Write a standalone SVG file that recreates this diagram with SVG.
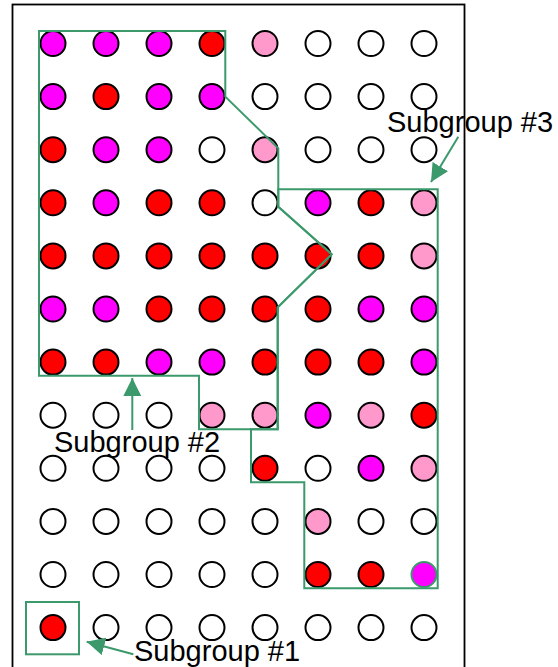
<svg xmlns="http://www.w3.org/2000/svg" width="558" height="667" viewBox="0 0 558 667">
<style>
.c{stroke:#000;stroke-width:2}
.w{fill:#fff}.m{fill:#ff00ff}.r{fill:#ff0000}.p{fill:#ff99cc}
.g{fill:none;stroke:#3b996b;stroke-width:2}
.lbl{font-family:"Liberation Sans",Arial,sans-serif;font-size:29px;fill:#000}
</style>
<defs>
<marker id="ah" viewBox="0 0 18 18" refX="18" refY="9" markerWidth="18" markerHeight="18" markerUnits="userSpaceOnUse" orient="auto">
<path d="M0,0 L18,9 L0,18 z" fill="#3b996b"/>
</marker>
</defs>
<rect x="0" y="0" width="558" height="667" fill="#fff"/>
<rect x="12.5" y="4.5" width="452" height="680" fill="none" stroke="#000" stroke-width="1.8"/>
<g id="grid">
<g transform="translate(0,43.5)">
<circle class="c m" cx="53" cy="0" r="12.5"/><circle class="c m" cx="106" cy="0" r="12.5"/><circle class="c m" cx="159" cy="0" r="12.5"/><circle class="c r" cx="212" cy="0" r="12.5"/><circle class="c p" cx="265" cy="0" r="12.5"/><circle class="c w" cx="318" cy="0" r="12.5"/><circle class="c w" cx="371" cy="0" r="12.5"/><circle class="c w" cx="424" cy="0" r="12.5"/>
</g>
<g transform="translate(0,96.6)">
<circle class="c m" cx="53" cy="0" r="12.5"/><circle class="c r" cx="106" cy="0" r="12.5"/><circle class="c m" cx="159" cy="0" r="12.5"/><circle class="c m" cx="212" cy="0" r="12.5"/><circle class="c w" cx="265" cy="0" r="12.5"/><circle class="c w" cx="318" cy="0" r="12.5"/><circle class="c w" cx="371" cy="0" r="12.5"/><circle class="c w" cx="424" cy="0" r="12.5"/>
</g>
<g transform="translate(0,149.7)">
<circle class="c r" cx="53" cy="0" r="12.5"/><circle class="c m" cx="106" cy="0" r="12.5"/><circle class="c m" cx="159" cy="0" r="12.5"/><circle class="c w" cx="212" cy="0" r="12.5"/><circle class="c p" cx="265" cy="0" r="12.5"/><circle class="c w" cx="318" cy="0" r="12.5"/><circle class="c w" cx="371" cy="0" r="12.5"/><circle class="c w" cx="424" cy="0" r="12.5"/>
</g>
<g transform="translate(0,202.8)">
<circle class="c r" cx="53" cy="0" r="12.5"/><circle class="c m" cx="106" cy="0" r="12.5"/><circle class="c r" cx="159" cy="0" r="12.5"/><circle class="c r" cx="212" cy="0" r="12.5"/><circle class="c w" cx="265" cy="0" r="12.5"/><circle class="c m" cx="318" cy="0" r="12.5"/><circle class="c r" cx="371" cy="0" r="12.5"/><circle class="c p" cx="424" cy="0" r="12.5"/>
</g>
<g transform="translate(0,255.9)">
<circle class="c r" cx="53" cy="0" r="12.5"/><circle class="c r" cx="106" cy="0" r="12.5"/><circle class="c r" cx="159" cy="0" r="12.5"/><circle class="c r" cx="212" cy="0" r="12.5"/><circle class="c r" cx="265" cy="0" r="12.5"/><circle class="c r" cx="318" cy="0" r="12.5"/><circle class="c r" cx="371" cy="0" r="12.5"/><circle class="c p" cx="424" cy="0" r="12.5"/>
</g>
<g transform="translate(0,309)">
<circle class="c m" cx="53" cy="0" r="12.5"/><circle class="c m" cx="106" cy="0" r="12.5"/><circle class="c r" cx="159" cy="0" r="12.5"/><circle class="c r" cx="212" cy="0" r="12.5"/><circle class="c r" cx="265" cy="0" r="12.5"/><circle class="c r" cx="318" cy="0" r="12.5"/><circle class="c m" cx="371" cy="0" r="12.5"/><circle class="c m" cx="424" cy="0" r="12.5"/>
</g>
<g transform="translate(0,362.1)">
<circle class="c r" cx="53" cy="0" r="12.5"/><circle class="c r" cx="106" cy="0" r="12.5"/><circle class="c m" cx="159" cy="0" r="12.5"/><circle class="c m" cx="212" cy="0" r="12.5"/><circle class="c r" cx="265" cy="0" r="12.5"/><circle class="c r" cx="318" cy="0" r="12.5"/><circle class="c r" cx="371" cy="0" r="12.5"/><circle class="c m" cx="424" cy="0" r="12.5"/>
</g>
<g transform="translate(0,415.2)">
<circle class="c w" cx="53" cy="0" r="12.5"/><circle class="c w" cx="106" cy="0" r="12.5"/><circle class="c w" cx="159" cy="0" r="12.5"/><circle class="c p" cx="212" cy="0" r="12.5"/><circle class="c p" cx="265" cy="0" r="12.5"/><circle class="c m" cx="318" cy="0" r="12.5"/><circle class="c p" cx="371" cy="0" r="12.5"/><circle class="c r" cx="424" cy="0" r="12.5"/>
</g>
<g transform="translate(0,468.3)">
<circle class="c w" cx="53" cy="0" r="12.5"/><circle class="c w" cx="106" cy="0" r="12.5"/><circle class="c w" cx="159" cy="0" r="12.5"/><circle class="c w" cx="212" cy="0" r="12.5"/><circle class="c r" cx="265" cy="0" r="12.5"/><circle class="c w" cx="318" cy="0" r="12.5"/><circle class="c m" cx="371" cy="0" r="12.5"/><circle class="c p" cx="424" cy="0" r="12.5"/>
</g>
<g transform="translate(0,521.4)">
<circle class="c w" cx="53" cy="0" r="12.5"/><circle class="c w" cx="106" cy="0" r="12.5"/><circle class="c w" cx="159" cy="0" r="12.5"/><circle class="c w" cx="212" cy="0" r="12.5"/><circle class="c w" cx="265" cy="0" r="12.5"/><circle class="c p" cx="318" cy="0" r="12.5"/><circle class="c w" cx="371" cy="0" r="12.5"/><circle class="c w" cx="424" cy="0" r="12.5"/>
</g>
<g transform="translate(0,574.5)">
<circle class="c w" cx="53" cy="0" r="12.5"/><circle class="c w" cx="106" cy="0" r="12.5"/><circle class="c w" cx="159" cy="0" r="12.5"/><circle class="c w" cx="212" cy="0" r="12.5"/><circle class="c w" cx="265" cy="0" r="12.5"/><circle class="c r" cx="318" cy="0" r="12.5"/><circle class="c r" cx="371" cy="0" r="12.5"/><circle class="m" cx="424" cy="0" r="12.5" stroke="#3b996b" stroke-width="2"/>
</g>
<g transform="translate(0,627.6)">
<circle class="c r" cx="53" cy="0" r="12.5"/><circle class="c w" cx="106" cy="0" r="12.5"/><circle class="c w" cx="159" cy="0" r="12.5"/><circle class="c w" cx="212" cy="0" r="12.5"/><circle class="c w" cx="265" cy="0" r="12.5"/><circle class="c w" cx="318" cy="0" r="12.5"/><circle class="c w" cx="371" cy="0" r="12.5"/><circle class="c w" cx="424" cy="0" r="12.5"/>
</g>
</g>
<g id="subgroup-1">
<rect class="g" x="26" y="602" width="53" height="52.3"/>
</g>
<g id="subgroup-2">
<polygon class="g" points="39,31 225.3,31 225.3,96.7 278.3,148.3 278.3,206.7 331.7,254.3 277.7,307.3 277.7,429.3 199,429.3 199,375.7 39,375.7"/>
</g>
<g id="subgroup-3">
<polygon class="g" points="278.3,189.3 437.7,189.3 437.7,588.3 304.3,588.3 304.3,482.3 251,482.3 251,429.3 277.7,429.3 277.7,307.3 331.7,254.3 278.3,206.7"/>
</g>
<g id="connectors">
<line class="g" x1="458.3" y1="136.7" x2="431" y2="182" marker-end="url(#ah)"/>
<line class="g" x1="132.3" y1="430" x2="132.3" y2="378" marker-end="url(#ah)"/>
<line class="g" x1="133.3" y1="654.3" x2="86.7" y2="641.7" marker-end="url(#ah)"/>
</g>
<g id="labels">
<text class="lbl" x="387" y="131.7">Subgroup #3</text>
<text class="lbl" x="54" y="452">Subgroup #2</text>
<text class="lbl" x="134" y="660.5">Subgroup #1</text>
</g>
</svg>
